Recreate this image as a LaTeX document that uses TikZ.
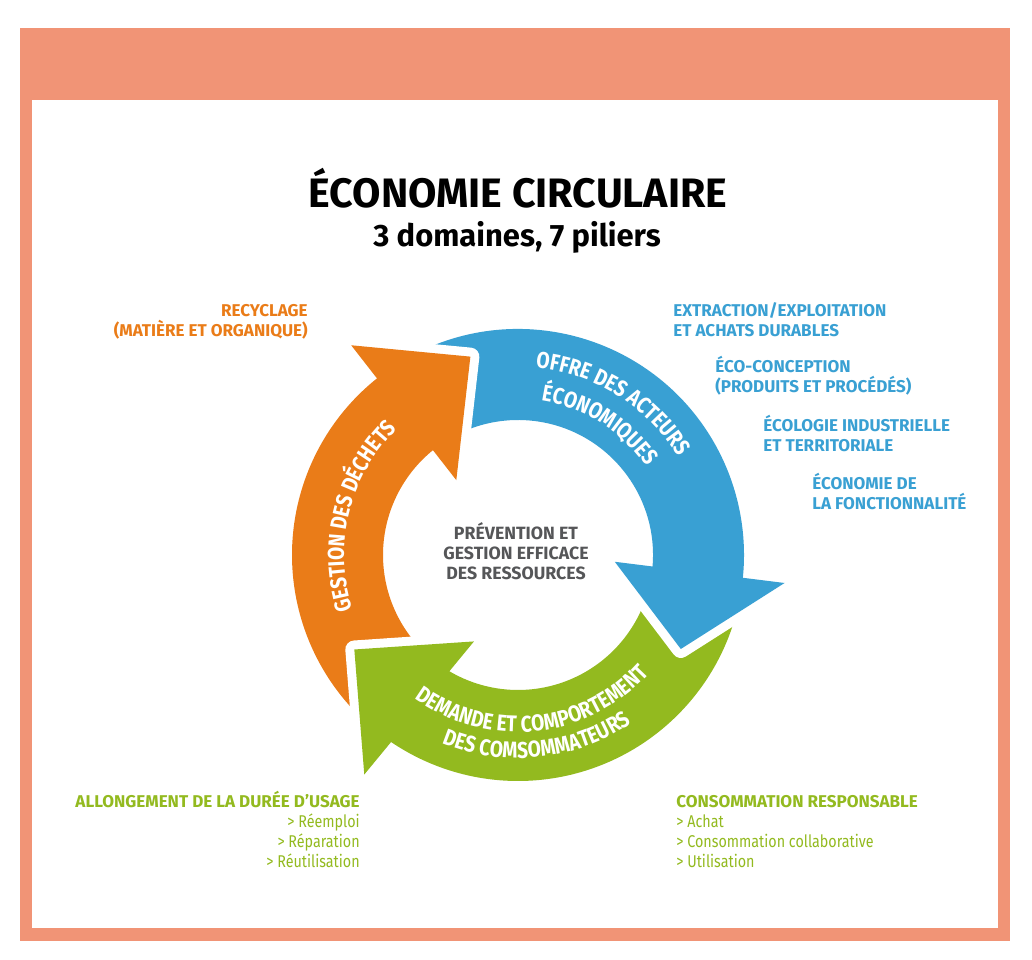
\documentclass[tikz,border=0pt]{standalone}
\usepackage{fontspec}
\setmainfont{Fira Sans}
\newfontfamily\condfont{Fira Sans}[FakeStretch=0.84]
\usetikzlibrary{decorations.text}

\definecolor{cadre}{RGB}{241,148,118}
\definecolor{ecoorange}{RGB}{234,124,24}
\definecolor{ecoblue}{RGB}{57,160,211}
\definecolor{ecogreen}{RGB}{147,186,31}
\definecolor{ecogray}{RGB}{85,86,88}

\tikzset{
  titre/.style={inner sep=0pt, anchor=base, font=\bfseries\fontsize{23.4}{25}\selectfont},
  soustitre/.style={inner sep=0pt, anchor=base, font=\bfseries\fontsize{17.6}{19}\selectfont},
  pilier/.style={inner sep=0pt, font=\bfseries\fontsize{9.7}{11.4}\selectfont},
  centre/.style={inner sep=0pt, align=center, text=ecogray, font=\bfseries\fontsize{10.1}{11.2}\selectfont},
  domaine/.style={decorate, decoration={text along path, text align=center,
    text={|\condfont\bfseries\fontsize{13}{13}\selectfont\color{white}|#1}}}
}

\begin{document}
\begin{tikzpicture}[x=0.2mm,y=0.2mm]
\useasboundingbox (0,0) rectangle (1032,960);
\fill[cadre] (20,19) rectangle (1010,932);
\fill[white] (32,32) rectangle (998,860);

\node[titre] (titre) at (518,752) {ÉCONOMIE CIRCULAIRE};
\node[soustitre] (soustitre) at (517,713) {3 domaines, 7 piliers};

\begin{scope}[shift={(518,405)}]
\foreach \c/\a/\b in {ecoblue/117/-7, ecogreen/-15/-127, ecoorange/227/126}
  \fill[\c] (\a:226) arc[start angle=\a, end angle=\b, radius=226]
    -- (\b:135) arc[start angle=\b, end angle=\a, radius=135] -- cycle;
\foreach \c/\ai/\ao/\p/\r in {ecoblue/-4/-6/-30/188, ecogreen/-117/-125/-150/189,
    ecoorange/129.5/128.5/103.5/204} {
  \draw[white, line width=3.6mm, line join=round] (\ai:97) -- (\p:\r) -- (\ao:268);
  \fill[\c] (\ai:97) -- (\p:\r) -- (\ao:268) -- cycle;
}

\path[domaine={OFFRE DES ACTEURS}] (128:188) arc[start angle=128, end angle=-12, radius=188];
\path[domaine={ÉCONOMIQUES}] (128:156) arc[start angle=128, end angle=-12, radius=156];
\path[domaine={GESTION DES DÉCHETS}] (236:174) arc[start angle=236, end angle=96, radius=174];
\path[domaine={DEMANDE ET COMPORTEMENT}] (196:177) arc[start angle=196, end angle=356, radius=177];
\path[domaine={DES COMSOMMATEURS}] (196:203) arc[start angle=196, end angle=356, radius=203];
\end{scope}

\node[centre] (prevention) at (516,409) {PRÉVENTION ET\\GESTION EFFICACE\\DES RESSOURCES};

\node[pilier, text=ecoorange, anchor=base east, align=right] (recyclage) at (308,623)
  {RECYCLAGE\\(MATIÈRE ET ORGANIQUE)};
\node[pilier, text=ecoblue, anchor=base west, align=left] (extraction) at (673,623)
  {EXTRACTION/EXPLOITATION\\ET ACHATS DURABLES};
\node[pilier, text=ecoblue, anchor=base west, align=left] (ecoconception) at (715,567)
  {ÉCO-CONCEPTION\\(PRODUITS ET PROCÉDÉS)};
\node[pilier, text=ecoblue, anchor=base west, align=left] (ecologie) at (763,508)
  {ÉCOLOGIE INDUSTRIELLE\\ET TERRITORIALE};
\node[pilier, text=ecoblue, anchor=base west, align=left] (fonctionnalite) at (812,450)
  {ÉCONOMIE DE\\LA FONCTIONNALITÉ};

\node[pilier, text=ecogreen, anchor=base east, align=right] (allongement) at (360,92)
  {ALLONGEMENT DE LA DURÉE D’USAGE\\{\condfont\mdseries > Réemploi}\\{\condfont\mdseries > Réparation}\\{\condfont\mdseries > Réutilisation}};
\node[pilier, text=ecogreen, anchor=base west, align=left] (consommation) at (676,92)
  {CONSOMMATION RESPONSABLE\\{\condfont\mdseries > Achat}\\{\condfont\mdseries > Consommation collaborative}\\{\condfont\mdseries > Utilisation}};
\end{tikzpicture}
\end{document}
